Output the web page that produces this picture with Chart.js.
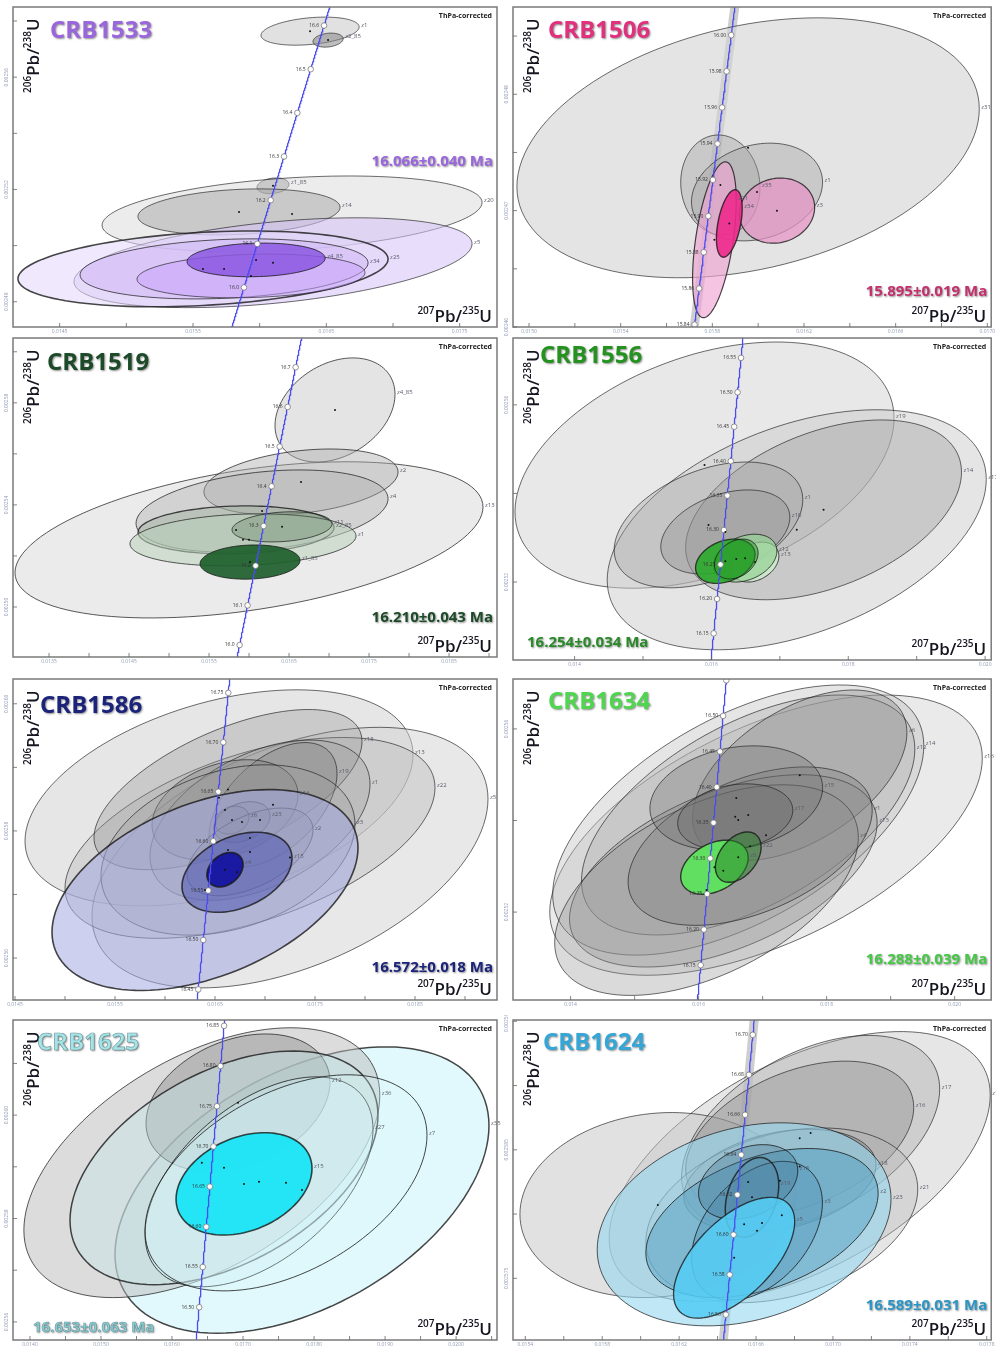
<!DOCTYPE html>
<html>
<head>
<meta charset="utf-8">
<title>Zircon U–Pb concordia diagrams</title>
<script src="https://cdn.jsdelivr.net/npm/chart.js@4.4.1/dist/chart.umd.min.js"></script>
<style>
html,body{margin:0;padding:0;background:#fff}
body{position:relative;width:996px;height:1346px;overflow:hidden}
canvas{position:absolute}
</style>
</head>
<body>
<script>
// Decay constants (per year)
const LAMBDA_238 = 1.55125e-10;
const LAMBDA_235 = 9.8485e-10;

// ---------- CRB1533 ----------
const crb1533Names = ['z1','z2_85','z1_85','z20','z14','z5','z25','z34','','z4_85'];
const crb1533X   = [0.016378,0.016513,0.0161,0.016243,0.015845,0.0161,0.015575,0.015733,0.015935,0.015973];
const crb1533X2s = [0.000368,0.000113,0.00012,0.001425,0.000758,0.001493,0.001388,0.00108,0.000855,0.000518];
const crb1533Y   = [0.0025764,0.0025732,0.0025213,0.0025113,0.002512,0.0024939,0.0024917,0.0024917,0.0024892,0.0024949];
const crb1533Y2s = [0.000005,0.0000025,0.0000028,0.0000135,0.0000082,0.000016,0.0000135,0.0000107,0.0000078,0.000006];
const crb1533Rho = [0.3,0.2,0.2,0.3,0.2,0.42,0.26,0.2,0.15,0.1];
const crb1533Ages = [16.0,16.1,16.2,16.3,16.4,16.5,16.6];
const crb1533XTicks = [0.0145,0.0155,0.0165,0.0175];
const crb1533YTicks = [0.00248,0.00252,0.00256];
const crb1533Result = [16.066, 0.040];

// ---------- CRB1506 ----------
const crb1506Names = ['z31','z35','z1','z21','z3','z34'];
const crb1506X   = [0.015956,0.015835,0.015995,0.015809,0.016082,0.015874];
const crb1506X2s = [0.001009,0.000173,0.000286,0.0000953,0.0001645,0.0000563];
const crb1506Y   = [0.0024754,0.0024722,0.0024716,0.0024675,0.00247,0.0024689];
const crb1506Y2s = [0.00001117,0.0000043,0.0000042,0.0000067,0.0000028,0.0000029];
const crb1506Rho = [0.3,-0.05,0.2,0.5,0.1,0.45];
const crb1506Ages = [15.84,15.86,15.88,15.90,15.92,15.94,15.96,15.98,16.00];
const crb1506XTicks = [0.0150,0.0154,0.0158,0.0162,0.0166,0.0170];
const crb1506YTicks = [0.00246,0.00247,0.00248];
const crb1506Result = [15.895, 0.019];

// ---------- CRB1519 ----------
const crb1519Names = ['z4_85','z13','z2','z4','z2_85','z1','z11','z1_85'];
const crb1519X   = [0.017075,0.016,0.01665,0.016163,0.015838,0.015925,0.016413,0.016013];
const crb1519X2s = [0.00075,0.002925,0.001213,0.001575,0.001225,0.001413,0.000625,0.000625];
const crb1519Y   = [0.0025772,0.0025263,0.002549,0.0025376,0.0025302,0.0025263,0.0025314,0.0025176];
const crb1519Y2s = [0.0000204,0.0000306,0.0000129,0.0000161,0.0000094,0.0000102,0.0000059,0.0000067];
const crb1519Rho = [0.3,0.42,0.3,0.3,0.1,0.15,0.2,0.1];
const crb1519Ages = [16.0,16.1,16.2,16.3,16.4,16.5,16.6,16.7];
const crb1519XTicks = [0.0135,0.0145,0.0155,0.0165,0.0175,0.0185];
const crb1519YTicks = [0.00250,0.00254,0.00258];
const crb1519Result = [16.210, 0.043];

// ---------- CRB1556 ----------
const crb1556Names = ['z19','z17','z14','z1','z10','z13','z12','',''];
const crb1556X   = [0.015899,0.017247,0.017639,0.015957,0.016203,0.016638,0.016493,0.016203,0.016363];
const crb1556X2s = [0.00277,0.00277,0.002016,0.001378,0.000943,0.000348,0.000464,0.000435,0.000319];
const crb1556Y   = [0.0025464,0.0025318,0.0025363,0.0025329,0.0025313,0.0025245,0.0025254,0.0025247,0.0025252];
const crb1556Y2s = [0.0000278,0.0000271,0.0000203,0.0000142,0.0000095,0.0000045,0.0000054,0.000005,0.0000045];
const crb1556Rho = [0.38,0.42,0.42,0.4,0.35,0.3,0.3,0.3,0.3];
const crb1556Ages = [16.15,16.20,16.25,16.30,16.35,16.40,16.45,16.50,16.55];
const crb1556XTicks = [0.014,0.016,0.018,0.020];
const crb1556YTicks = [0.00252,0.00256];
const crb1556Result = [16.254, 0.034];

// ---------- CRB1586 ----------
const crb1586Names = ['z13','z5','z22','z18','z1','z19','z16','z3','z23','z6','z2','','z15','z4'];
const crb1586X   = [0.01654,0.01725,0.01685,0.01663,0.01695,0.01708,0.0166,0.01663,0.01677,0.01667,0.01685,0.0164,0.01672,0.0166];
const crb1586X2s = [0.00194,0.00198,0.00185,0.00134,0.0011,0.00064,0.00073,0.00127,0.00028,0.00017,0.00063,0.00153,0.00055,0.00018];
const crb1586Y   = [0.0025852,0.0025758,0.0025789,0.0025865,0.0025817,0.0025841,0.0025833,0.002577,0.0025814,0.0025817,0.0025767,0.0025707,0.0025735,0.0025739];
const crb1586Y2s = [0.000017,0.0000205,0.0000158,0.0000126,0.0000126,0.0000098,0.0000079,0.0000134,0.0000032,0.0000022,0.0000069,0.0000158,0.0000063,0.0000027];
const crb1586Rho = [0.4,0.45,0.5,0.6,0.45,0.5,0.3,0.3,0.3,0.2,0.5,0.42,0.35,0.3];
const crb1586Ages = [16.45,16.50,16.55,16.60,16.65,16.70,16.75];
const crb1586XTicks = [0.0145,0.0155,0.0165,0.0175,0.0185];
const crb1586YTicks = [0.00256,0.00258,0.00260];
const crb1586Result = [16.572, 0.018];

// ---------- CRB1634 ----------
const crb1634Names = ['z16','z14','z12','z6','z13','z4','z1','z15','z17','z8','z22'];
const crb1634X   = [0.017053,0.016619,0.016774,0.01758,0.016386,0.016123,0.016805,0.016588,0.016572,0.016247,0.016619];
const crb1634X2s = [0.003379,0.002899,0.002604,0.001674,0.002403,0.002372,0.001907,0.001349,0.000899,0.000527,0.000357];
const crb1634Y   = [0.0025368,0.0025401,0.0025412,0.0025499,0.002529,0.0025248,0.0025344,0.0025449,0.0025408,0.0025298,0.002532];
const crb1634Y2s = [0.0000306,0.0000295,0.0000262,0.0000186,0.000021,0.000023,0.0000173,0.0000114,0.0000072,0.0000059,0.0000055];
const crb1634Rho = [0.55,0.55,0.55,0.5,0.5,0.5,0.45,0.2,0.2,0.35,0.4];
const crb1634Ages = [16.15,16.20,16.25,16.30,16.35,16.40,16.45,16.50,16.55];
const crb1634XTicks = [0.014,0.016,0.018,0.020];
const crb1634YTicks = [0.00252,0.00256];
const crb1634Result = [16.288, 0.039];

// ---------- CRB1625 ----------
const crb1625Names = ['z35','z36','z12','','z27','z7','z15'];
const crb1625X   = [0.01783,0.01642,0.016929,0.016732,0.017225,0.017605,0.017014];
const crb1625X2s = [0.002633,0.002506,0.001295,0.002168,0.001605,0.001985,0.000957];
const crb1625Y   = [0.0025855,0.0025908,0.0026024,0.0025898,0.0025871,0.0025869,0.0025867];
const crb1625Y2s = [0.0000277,0.0000261,0.0000133,0.0000226,0.0000203,0.0000209,0.0000099];
const crb1625Rho = [0.45,0.5,0.3,0.45,0.5,0.44,0.3];
const crb1625Ages = [16.50,16.55,16.60,16.65,16.70,16.75,16.80,16.85];
const crb1625XTicks = [0.0140,0.0150,0.0160,0.0170,0.0180,0.0190,0.0200];
const crb1625YTicks = [0.00256,0.00258,0.00260];
const crb1625Result = [16.653, 0.063];

// ---------- CRB1624 ----------
const crb1624Names = ['z14','','z17','z16','z21','z18','z23','z2','z3','z15','z19','z5'];
const crb1624X   = [0.016827,0.016089,0.016884,0.016827,0.016734,0.016724,0.016538,0.016631,0.016605,0.016559,0.016579,0.016486];
const crb1624X2s = [0.000991,0.000717,0.000671,0.000593,0.000707,0.0005,0.000764,0.000604,0.00034,0.000258,0.000139,0.000315];
const crb1624Y   = [0.0025837,0.0025807,0.0025863,0.0025859,0.0025799,0.0025826,0.0025792,0.0025793,0.0025787,0.0025825,0.0025813,0.0025766];
const crb1624Y2s = [0.0000105,0.0000072,0.0000076,0.000006,0.0000068,0.000004,0.0000079,0.0000058,0.0000054,0.0000029,0.0000031,0.0000047];
const crb1624Rho = [0.53,0.1,0.45,0.4,0.3,0.3,0.25,0.4,0.4,0.3,0.3,0.6];
const crb1624Ages = [16.56,16.58,16.60,16.62,16.64,16.66,16.68,16.70];
const crb1624XTicks = [0.0154,0.0158,0.0162,0.0166,0.0170,0.0174,0.0178];
const crb1624YTicks = [0.002575,0.002585,0.002595];
const crb1624Result = [16.589, 0.031];

// ---------- panel layout & styling ----------
const G = (v, a) => `rgba(${v},${v},${v},${a})`;

const panels = [
  { title:'CRB1533', col:0, top:7, bottom:327,
    names:crb1533Names, x:crb1533X, x2s:crb1533X2s, y:crb1533Y, y2s:crb1533Y2s, rho:crb1533Rho,
    ages:crb1533Ages, ageDigits:1, xTicks:crb1533XTicks, yTicks:crb1533YTicks, result:crb1533Result,
    xRange:[0.01415,0.01778], yRange:[0.002471,0.002585], xStep:0.0005, yStep:0.00002, xDigits:4, yDigits:5,
    fills:[G(200,0.55),G(135,0.55),G(140,0.55),G(212,0.45),G(160,0.45),'rgba(214,194,248,0.55)','rgba(228,215,252,0.55)','rgba(205,180,245,0.5)','rgba(198,162,250,0.55)','rgba(140,88,226,0.85)'],
    edges:[0.8,0.8,0.8,0.8,0.8,0.8,1.6,0.9,0.8,1.0],
    color:'#9a66de', titlePos:[37,31], resultPos:['right',159], band:false },
  { title:'CRB1506', col:1, top:7, bottom:327,
    names:crb1506Names, x:crb1506X, x2s:crb1506X2s, y:crb1506Y, y2s:crb1506Y2s, rho:crb1506Rho,
    ages:crb1506Ages, ageDigits:2, xTicks:crb1506XTicks, yTicks:crb1506YTicks, result:crb1506Result,
    xRange:[0.01493,0.017017], yRange:[0.00246,0.0024875], xStep:0.0002, yStep:0.000005, xDigits:4, yDigits:5,
    fills:[G(214,0.65),G(160,0.4),G(160,0.4),'rgba(240,165,210,0.65)','rgba(230,145,195,0.7)','rgba(238,40,140,0.9)'],
    edges:[0.8,0.8,0.8,1.2,1.2,1.4],
    color:'#e0307e', resultColor:'#c42f6e', titlePos:[35,31], resultPos:['right',289], band:true },
  { title:'CRB1519', col:0, top:338, bottom:657,
    names:crb1519Names, x:crb1519X, x2s:crb1519X2s, y:crb1519Y, y2s:crb1519Y2s, rho:crb1519Rho,
    ages:crb1519Ages, ageDigits:1, xTicks:crb1519XTicks, yTicks:crb1519YTicks, result:crb1519Result,
    xRange:[0.01305,0.0191], yRange:[0.0024804,0.0026054], xStep:0.0005, yStep:0.00002, xDigits:4, yDigits:5,
    fills:[G(214,0.65),G(218,0.55),G(172,0.45),G(172,0.4),'rgba(150,170,150,0.4)','rgba(185,210,185,0.55)','rgba(95,125,95,0.35)','rgba(30,95,45,0.92)'],
    edges:[0.9,0.9,0.9,0.9,1.3,0.9,0.9,1.0],
    color:'#1d4b29', titlePos:[34,32], resultPos:['right',284], band:false },
  { title:'CRB1556', col:1, top:338, bottom:660,
    names:crb1556Names, x:crb1556X, x2s:crb1556X2s, y:crb1556Y, y2s:crb1556Y2s, rho:crb1556Rho,
    ages:crb1556Ages, ageDigits:2, xTicks:crb1556XTicks, yTicks:crb1556YTicks, result:crb1556Result,
    xRange:[0.0131,0.020089], yRange:[0.0025024,0.0025751], xStep:0.001, yStep:0.00002, xDigits:3, yDigits:5,
    fills:[G(214,0.55),G(204,0.5),G(150,0.35),G(160,0.35),G(140,0.35),'rgba(205,238,205,0.8)','rgba(150,210,150,0.7)','rgba(40,170,40,0.88)','rgba(40,150,40,0.5)'],
    edges:[0.8,0.8,0.8,0.8,0.8,1.0,1.0,1.3,1.0],
    color:'#23921f', resultColor:'#2a8a2a', titlePos:[27,25], resultPos:['left',309,14], band:false },
  { title:'CRB1586', col:0, top:679, bottom:1000,
    names:crb1586Names, x:crb1586X, x2s:crb1586X2s, y:crb1586Y, y2s:crb1586Y2s, rho:crb1586Rho,
    ages:crb1586Ages, ageDigits:2, xTicks:crb1586XTicks, yTicks:crb1586YTicks, result:crb1586Result,
    xRange:[0.01448,0.01932], yRange:[0.0025534,0.0026039], xStep:0.0005, yStep:0.00001, xDigits:4, yDigits:5,
    fills:[G(214,0.6),G(210,0.5),G(185,0.4),G(150,0.35),G(150,0.3),G(120,0.3),G(120,0.3),G(160,0.3),G(110,0.3),G(110,0.3),G(130,0.3),'rgba(165,170,225,0.55)','rgba(70,80,175,0.5)','rgba(20,20,160,0.95)'],
    edges:[0.8,0.8,0.8,0.8,0.8,0.8,0.8,0.8,0.8,0.8,0.8,1.6,1.6,1.8],
    color:'#1b237a', titlePos:[27,34], resultPos:['right',293], band:false },
  { title:'CRB1634', col:1, top:679, bottom:1000,
    names:crb1634Names, x:crb1634X, x2s:crb1634X2s, y:crb1634Y, y2s:crb1634Y2s, rho:crb1634Rho,
    ages:crb1634Ages, ageDigits:2, xTicks:crb1634XTicks, yTicks:crb1634YTicks, result:crb1634Result,
    xRange:[0.0131,0.020571], yRange:[0.0025008,0.0025709], xStep:0.001, yStep:0.00002, xDigits:3, yDigits:5,
    fills:[G(220,0.6),G(190,0.4),G(170,0.35),G(130,0.35),G(150,0.35),G(150,0.35),G(120,0.3),G(110,0.3),G(100,0.3),'rgba(95,228,95,0.95)','rgba(40,130,40,0.5)'],
    edges:[0.8,0.8,0.8,0.8,0.8,0.8,0.8,0.8,0.8,1.4,1.4],
    color:'#4fd64f', resultColor:'#45c845', titlePos:[35,30], resultPos:['right',285], band:false },
  { title:'CRB1625', col:0, top:1020, bottom:1340,
    names:crb1625Names, x:crb1625X, x2s:crb1625X2s, y:crb1625Y, y2s:crb1625Y2s, rho:crb1625Rho,
    ages:crb1625Ages, ageDigits:2, xTicks:crb1625XTicks, yTicks:crb1625YTicks, result:crb1625Result,
    xRange:[0.013761,0.020576], yRange:[0.0025565,0.0026184], xStep:0.0005, yStep:0.00001, xDigits:4, yDigits:5,
    fills:['rgba(222,248,252,0.9)',G(185,0.5),G(140,0.45),'rgba(200,232,236,0.4)','rgba(205,240,245,0.35)','rgba(215,245,250,0.3)','rgba(30,228,245,0.97)'],
    edges:[1.5,0.9,0.9,1.5,1.0,1.0,1.6],
    color:'#a6e3e6', resultColor:'#88cfd6', outline:true, titlePos:[24,30], resultPos:['left',312,20], band:false },
  { title:'CRB1624', col:1, top:1020, bottom:1340,
    names:crb1624Names, x:crb1624X, x2s:crb1624X2s, y:crb1624Y, y2s:crb1624Y2s, rho:crb1624Rho,
    ages:crb1624Ages, ageDigits:2, xTicks:crb1624XTicks, yTicks:crb1624YTicks, result:crb1624Result,
    xRange:[0.015336,0.017823], yRange:[0.0025702,0.0025951], xStep:0.0002, yStep:0.000005, xDigits:4, yDigits:6,
    fills:[G(214,0.6),G(195,0.5),G(170,0.4),G(140,0.4),G(180,0.35),G(110,0.3),'rgba(150,215,240,0.6)','rgba(75,155,190,0.45)','rgba(70,140,180,0.3)','rgba(60,110,140,0.3)','rgba(60,110,140,0.15)','rgba(85,205,245,0.88)'],
    edges:[0.8,0.8,0.8,0.8,0.8,0.8,0.9,1.0,1.0,1.0,1.5,1.3],
    color:'#35a6d6', resultColor:'#2b95c5', titlePos:[30,30], resultPos:['right',290], band:true },
];

// ---------- helpers ----------
function concordia(ageMa) {
  return { x: Math.expm1(LAMBDA_235 * ageMa * 1e6), y: Math.expm1(LAMBDA_238 * ageMa * 1e6) };
}

function concordiaCurve(yRange) {
  const t0 = Math.log1p(yRange[0]) / LAMBDA_238 / 1e6 - 0.05;
  const t1 = Math.log1p(yRange[1]) / LAMBDA_238 / 1e6 + 0.05;
  const pts = [];
  for (let t = t0; t <= t1; t += 0.002) pts.push(concordia(t));
  return pts;
}

function stepTicks(range, step) {
  const out = [];
  for (let k = Math.ceil(range[0] / step - 1e-6); k * step <= range[1] + 1e-12; k++) {
    out.push({ value: +(k * step).toPrecision(10) });
  }
  return out;
}

function ellipsePath(ctx, xs, ys, cx, sx, cy, sy, rho) {
  const r = Math.sqrt(1 - rho * rho);
  ctx.beginPath();
  for (let i = 0; i <= 120; i++) {
    const t = i / 120 * 2 * Math.PI;
    const px = xs.getPixelForValue(cx + sx * Math.cos(t));
    const py = ys.getPixelForValue(cy + sy * (rho * Math.cos(t) + r * Math.sin(t)));
    if (i) ctx.lineTo(px, py); else ctx.moveTo(px, py);
  }
  ctx.closePath();
}

// "207Pb/235U" style label with superscript mass numbers
function isotopeRatio(ctx, x, y, massA, massB, big, small, alignRight) {
  const parts = [[massA, true], ['Pb/', false], [massB, true], ['U', false]];
  const fontOf = sup => `600 ${sup ? small : big}px "Open Sans", sans-serif`;
  let w = 0;
  parts.forEach(([s, sup]) => { ctx.font = fontOf(sup); w += ctx.measureText(s).width; });
  let cx = alignRight ? x - w : x;
  ctx.textAlign = 'left';
  ctx.textBaseline = 'alphabetic';
  parts.forEach(([s, sup]) => {
    ctx.font = fontOf(sup);
    ctx.fillText(s, cx, sup ? y - big * 0.48 : y);
    cx += ctx.measureText(s).width;
  });
}

const TICK_LABEL_COLOR = '#8f9bb3';

function makeDecor(p, curve) {
  return {
    id: 'concordiaDecor',
    beforeDatasetsDraw(chart) {
      const { ctx, chartArea: a } = chart;
      const xs = chart.scales.x, ys = chart.scales.y;
      ctx.save();
      ctx.beginPath();
      ctx.rect(a.left, a.top, a.right - a.left, a.bottom - a.top);
      ctx.clip();
      if (p.band) {
        ctx.beginPath();
        curve.forEach((pt, i) => {
          const px = xs.getPixelForValue(pt.x), py = ys.getPixelForValue(pt.y);
          if (i) ctx.lineTo(px, py); else ctx.moveTo(px, py);
        });
        ctx.strokeStyle = 'rgba(165,165,165,0.55)';
        ctx.lineWidth = 9;
        ctx.stroke();
      }
      p.x.forEach((cx, i) => {
        ellipsePath(ctx, xs, ys, cx, p.x2s[i], p.y[i], p.y2s[i], p.rho[i]);
        ctx.fillStyle = p.fills[i];
        ctx.fill();
        ctx.strokeStyle = 'rgba(25,25,25,0.8)';
        ctx.lineWidth = p.edges[i];
        ctx.stroke();
      });
      ctx.restore();
    },
    afterDatasetsDraw(chart) {
      const { ctx } = chart;
      const xs = chart.scales.x, ys = chart.scales.y;
      ctx.save();
      // grain labels at the right-hand end of each ellipse
      ctx.font = '6px "Open Sans", sans-serif';
      ctx.fillStyle = '#5a5a6a';
      ctx.textAlign = 'left';
      ctx.textBaseline = 'middle';
      p.names.forEach((n, i) => {
        if (!n) return;
        const px = xs.getPixelForValue(p.x[i] + p.x2s[i]);
        const py = ys.getPixelForValue(p.y[i] + p.y2s[i] * p.rho[i]);
        ctx.fillText(n, px + 2, py - 2);
      });
      // concordia age labels
      ctx.font = '5px "Open Sans", sans-serif';
      ctx.fillStyle = '#333';
      ctx.textAlign = 'right';
      p.ages.forEach(t => {
        const c = concordia(t);
        const py = ys.getPixelForValue(c.y);
        if (py < chart.chartArea.top + 2 || py > chart.chartArea.bottom - 2) return;
        ctx.fillText(t.toFixed(p.ageDigits), xs.getPixelForValue(c.x) - 5, py);
      });
      ctx.restore();
    },
    afterDraw(chart) {
      const { ctx, chartArea: a } = chart;
      const xs = chart.scales.x, ys = chart.scales.y;
      ctx.save();
      // frame
      ctx.strokeStyle = '#7a7a7a';
      ctx.lineWidth = 1.5;
      ctx.strokeRect(a.left, a.top, a.right - a.left, a.bottom - a.top);
      // inward tick marks and tick labels
      ctx.strokeStyle = '#666';
      ctx.lineWidth = 0.8;
      ctx.fillStyle = TICK_LABEL_COLOR;
      ctx.font = '5px "Open Sans", sans-serif';
      const isLabelled = (v, list, step) => list.some(l => Math.abs(l - v) < step * 0.05);
      xs.ticks.forEach(tk => {
        const px = xs.getPixelForValue(tk.value);
        ctx.beginPath(); ctx.moveTo(px, a.bottom); ctx.lineTo(px, a.bottom - 4); ctx.stroke();
        if (isLabelled(tk.value, p.xTicks, p.xStep)) {
          ctx.textAlign = 'center'; ctx.textBaseline = 'top';
          ctx.fillText(tk.value.toFixed(p.xDigits), px, a.bottom + 2);
        }
      });
      ys.ticks.forEach(tk => {
        const py = ys.getPixelForValue(tk.value);
        ctx.beginPath(); ctx.moveTo(a.left, py); ctx.lineTo(a.left + 4, py); ctx.stroke();
        if (isLabelled(tk.value, p.yTicks, p.yStep)) {
          ctx.save();
          ctx.translate(a.left - 6, py);
          ctx.rotate(-Math.PI / 2);
          ctx.textAlign = 'center'; ctx.textBaseline = 'middle';
          ctx.fillText(tk.value.toFixed(p.yDigits), 0, 0);
          ctx.restore();
        }
      });
      // axis titles
      ctx.fillStyle = '#151520';
      isotopeRatio(ctx, a.right - 5, a.bottom - 5, '207', '235', 17, 10, true);
      ctx.save();
      ctx.translate(a.left + 26, a.top + 86);
      ctx.rotate(-Math.PI / 2);
      isotopeRatio(ctx, 0, 0, '206', '238', 17, 10, false);
      ctx.restore();
      // correction note
      ctx.font = 'bold 7px "Open Sans", sans-serif';
      ctx.fillStyle = '#222';
      ctx.textAlign = 'right';
      ctx.textBaseline = 'alphabetic';
      ctx.fillText('ThPa-corrected', a.right - 5, a.top + 11);
      // sample name
      ctx.font = 'bold 24px "Open Sans", sans-serif';
      ctx.textAlign = 'left';
      ctx.shadowColor = 'rgba(0,0,0,0.45)';
      ctx.shadowBlur = 2;
      ctx.shadowOffsetX = 1;
      ctx.shadowOffsetY = 1;
      ctx.fillStyle = p.color;
      ctx.fillText(p.title, a.left + p.titlePos[0], a.top + p.titlePos[1]);
      if (p.outline) {
        ctx.shadowColor = 'transparent';
        ctx.strokeStyle = 'rgba(70,110,115,0.6)';
        ctx.lineWidth = 0.7;
        ctx.strokeText(p.title, a.left + p.titlePos[0], a.top + p.titlePos[1]);
        ctx.shadowColor = 'rgba(0,0,0,0.45)';
      }
      // weighted mean age
      const txt = `${p.result[0].toFixed(3)}±${p.result[1].toFixed(3)} Ma`;
      ctx.font = 'bold 15px "Open Sans", sans-serif';
      ctx.fillStyle = p.resultColor || p.color;
      const [align, base, dx] = p.resultPos;
      ctx.textAlign = align;
      const tx = align === 'right' ? a.right - 4 : a.left + dx;
      ctx.fillText(txt, tx, a.top + base);
      if (p.outline) {
        ctx.shadowColor = 'transparent';
        ctx.strokeStyle = 'rgba(70,110,115,0.6)';
        ctx.lineWidth = 0.6;
        ctx.strokeText(txt, tx, a.top + base);
      }
      ctx.restore();
    }
  };
}

function buildPanel(p) {
  const left = p.col === 0 ? 0 : 500;
  const width = p.col === 0 ? 505 : 496;
  const padRight = p.col === 0 ? 8 : 1;
  const height = (p.bottom - p.top) + 5 + 9;
  const canvas = document.createElement('canvas');
  canvas.width = width;
  canvas.height = height;
  canvas.style.left = left + 'px';
  canvas.style.top = (p.top - 5) + 'px';
  canvas.style.width = width + 'px';
  canvas.style.height = height + 'px';
  document.body.appendChild(canvas);

  const curve = concordiaCurve(p.yRange);
  const markers = p.ages.map(concordia);
  const centres = p.x.map((v, i) => ({ x: v, y: p.y[i] }));

  new Chart(canvas, {
    type: 'scatter',
    data: {
      datasets: [
        { label: 'concordia', data: curve, showLine: true, pointRadius: 0, borderColor: '#4b4bf0', borderWidth: 1.3, tension: 0, order: 3 },
        { label: 'ages', data: markers, pointRadius: 2.8, pointBackgroundColor: '#ffffff', pointBorderColor: '#7a7a7a', pointBorderWidth: 0.8, order: 2 },
        { label: 'analyses', data: centres, pointRadius: 1, pointBackgroundColor: '#111', pointBorderWidth: 0, order: 1 }
      ]
    },
    options: {
      responsive: false,
      animation: false,
      devicePixelRatio: 1,
      events: [],
      layout: { padding: { top: 5, right: padRight, left: 0, bottom: 0 } },
      plugins: { legend: { display: false }, tooltip: { enabled: false } },
      scales: {
        x: {
          type: 'linear', min: p.xRange[0], max: p.xRange[1],
          ticks: { display: false }, grid: { display: false }, border: { display: false },
          afterBuildTicks: s => { s.ticks = stepTicks(p.xRange, p.xStep); },
          afterFit: s => { s.height = 9; }
        },
        y: {
          type: 'linear', min: p.yRange[0], max: p.yRange[1],
          ticks: { display: false }, grid: { display: false }, border: { display: false },
          afterBuildTicks: s => { s.ticks = stepTicks(p.yRange, p.yStep); },
          afterFit: s => { s.width = 13; }
        }
      }
    },
    plugins: [makeDecor(p, curve)]
  });
}

panels.forEach(buildPanel);
</script>
</body>
</html>
